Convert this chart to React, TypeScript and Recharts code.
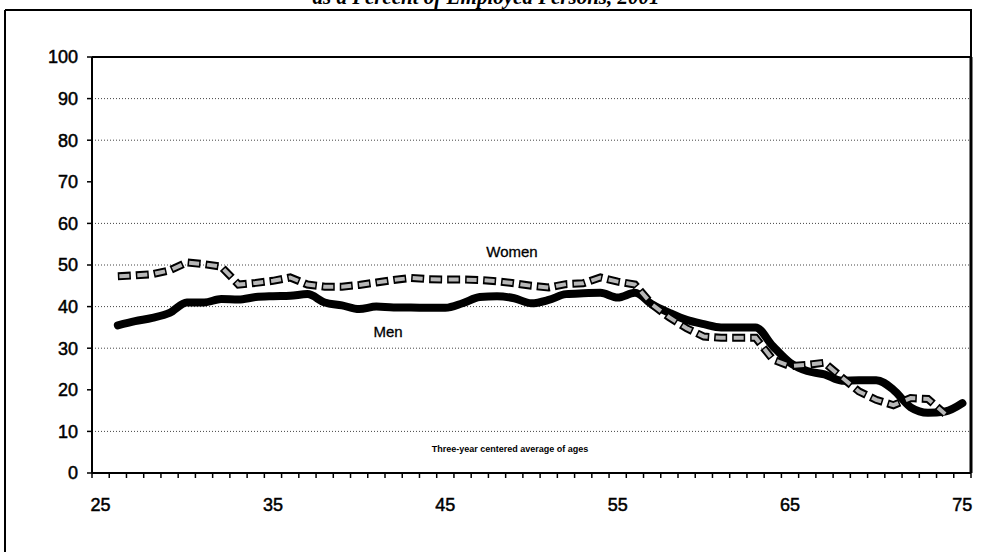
import { LineChart, Line, XAxis, YAxis, ReferenceLine } from 'recharts';

// ages (three-year centered averages); 25 has no value, it only anchors the first category
const ages = [
  25, 26, 27, 28, 29, 30, 31, 32, 33, 34, 35, 36, 37, 38, 39, 40, 41, 42, 43, 44, 45, 46, 47, 48, 49, 50,
  51, 52, 53, 54, 55, 56, 57, 58, 59, 60, 61, 62, 63, 64, 65, 66, 67, 68, 69, 70, 71, 72, 73, 74, 75,
];

const menShare = [
  null, 35.5, 36.5, 37.3, 38.5, 41, 41, 41.8, 41.7, 42.3, 42.5, 42.6, 43, 41, 40.3, 39.4, 40, 39.8, 39.8,
  39.7, 39.7, 40.8, 42.3, 42.5, 42, 40.8, 41.6, 43, 43.2, 43.3, 42.2, 43.3, 40.5, 38.5, 36.8, 35.8, 35,
  35, 35, 30.5, 26.5, 24.5, 23.7, 22.2, 22.3, 22.3, 20, 15.8, 14.5, 14.8, 16.8,
];

const womenShare = [
  null, 47.3, 47.5, 47.8, 48.7, 50.6, 50.2, 49.6, 45.3, 45.7, 46.2, 47, 45.3, 44.8, 44.8, 45.2, 45.8, 46.4,
  46.9, 46.6, 46.5, 46.5, 46.4, 46.1, 45.6, 45, 44.6, 45.4, 45.6, 47, 46, 45.3, 40.5, 37.4, 34.8, 32.8,
  32.5, 32.5, 32.5, 27.3, 25.7, 26, 26.5, 23, 19.6, 17.6, 16.3, 18, 17.8, 14.2, null,
];

const xLabels = [25, 35, 45, 55, 65, 75];
const yTicks = [0, 10, 20, 30, 40, 50, 60, 70, 80, 90, 100];
const gridValues = [10, 30, 40, 50, 60, 80, 90];

const data = ages.map((age, i) => ({ age, men: menShare[i], women: womenShare[i] }));

const xDomain = [ages[0] - 0.5, ages[ages.length - 1] + 0.5];
// category boundaries counted 0..51 on a separate axis that spans the same width
const boundaryIndex = ages.map((_, i) => i).concat(ages.length);

const font = 'Arial, "Liberation Sans", sans-serif';
const labelStyle = { fontSize: 18, fill: '#000', fontFamily: font, stroke: '#000', strokeWidth: 0.5 };

export default function App() {
  return (
    <div style={{ position: 'absolute', left: 0, top: 0, width: 992, height: 552, background: '#fff' }}>
      <LineChart
        width={992}
        height={552}
        data={data}
        margin={{ top: 57, right: 21, bottom: 23, left: 32 }}
      >
        {gridValues.map((v) => (
          <ReferenceLine key={v} y={v} xAxisId="axisB" stroke="#444" strokeWidth={1} strokeDasharray="1 2" />
        ))}
        {/* axis line + the small marks between categories */}
        <XAxis
          xAxisId="axisA"
          dataKey="age"
          type="number"
          domain={[0, ages.length]}
          allowDataOverflow
          ticks={boundaryIndex}
          interval={0}
          tickSize={5}
          tick={{ fontSize: 1 }}
          tickFormatter={() => ''}
          height={6}
          tickLine={{ stroke: '#000', strokeWidth: 1.5 }}
          axisLine={{ stroke: '#000', strokeWidth: 2 }}
        />
        {/* age labels */}
        <XAxis
          xAxisId="axisB"
          dataKey="age"
          type="number"
          domain={xDomain}
          ticks={xLabels}
          interval={0}
          tickSize={0}
          tickMargin={19}
          tickLine={false}
          axisLine={false}
          height={50}
          tick={labelStyle}
        />
        <YAxis
          type="number"
          domain={[0, 100]}
          ticks={yTicks}
          interval={0}
          width={60}
          tickSize={5}
          tickMargin={9}
          tick={labelStyle}
          tickLine={{ stroke: '#000', strokeWidth: 1.5 }}
          axisLine={{ stroke: '#000', strokeWidth: 2 }}
        />
        <ReferenceLine y={100} xAxisId="axisB" stroke="#000" strokeWidth={2} />
        <ReferenceLine x={xDomain[1]} xAxisId="axisB" stroke="#000" strokeWidth={3} />
        <Line
          xAxisId="axisB"
          dataKey="men"
          type="monotone"
          stroke="#000"
          strokeWidth={8}
          strokeLinecap="round"
          strokeLinejoin="round"
          dot={false}
          isAnimationActive={false}
        />
        <Line
          xAxisId="axisB"
          dataKey="women"
          type="linear"
          stroke="#000"
          strokeWidth={8}
          strokeDasharray="13 5"
          dot={false}
          isAnimationActive={false}
        />
        <Line
          xAxisId="axisB"
          dataKey="women"
          type="linear"
          stroke="#b8b8b8"
          strokeWidth={4}
          strokeDasharray="10 8"
          strokeDashoffset={-1.5}
          dot={false}
          isAnimationActive={false}
        />
      </LineChart>
      <svg
        width={992}
        height={552}
        style={{ position: 'absolute', left: 0, top: 0, pointerEvents: 'none' }}
      >
        <text
          x={486}
          y={4}
          textAnchor="middle"
          fontSize={21}
          fontWeight="bold"
          fontStyle="italic"
          fontFamily='"Times New Roman", "Liberation Serif", serif'
        >
          as a Percent of Employed Persons, 2001
        </text>
        <line x1={5} y1={10} x2={5} y2={552} stroke="#000" strokeWidth={2} />
        <line x1={5} y1={10} x2={972} y2={10} stroke="#000" strokeWidth={2} />
        <line x1={971} y1={10} x2={971} y2={57} stroke="#000" strokeWidth={2} />
        <text x={512} y={257} textAnchor="middle" fontSize={15} fontFamily={font} stroke="#000" strokeWidth={0.3}>
          Women
        </text>
        <text x={388} y={337} textAnchor="middle" fontSize={15} fontFamily={font} stroke="#000" strokeWidth={0.3}>
          Men
        </text>
        <text x={510} y={452} textAnchor="middle" fontSize={9} fontWeight="bold" fontFamily={font}>
          Three-year centered average of ages
        </text>
      </svg>
    </div>
  );
}
